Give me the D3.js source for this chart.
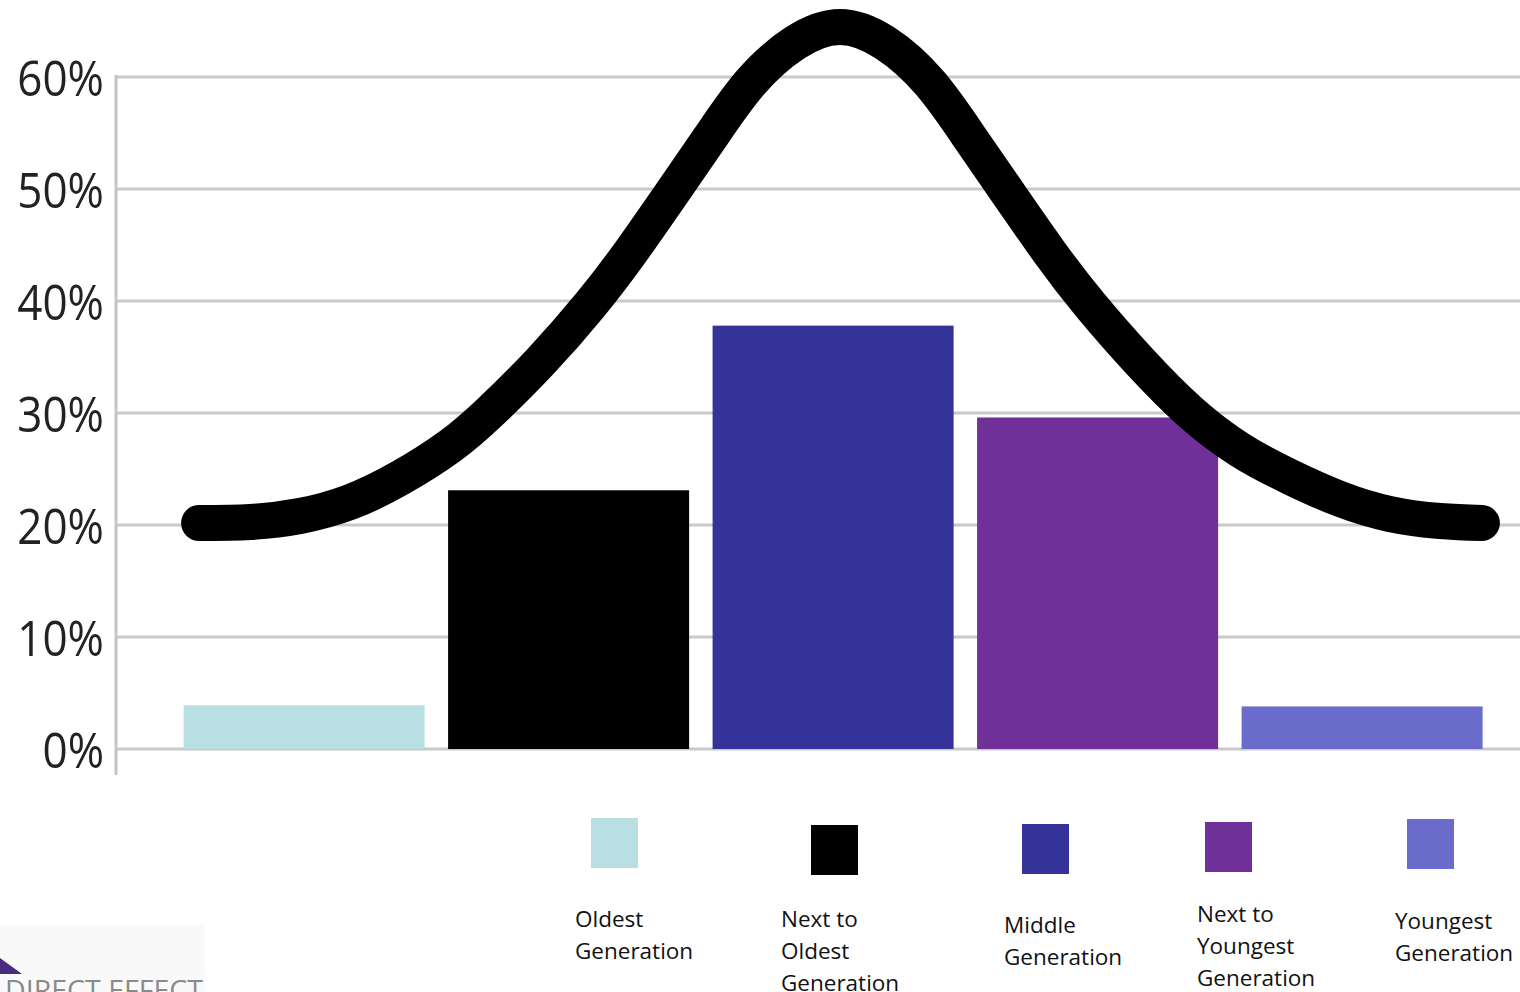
<!DOCTYPE html>
<html>
<head>
<meta charset="utf-8">
<script src="https://cdn.jsdelivr.net/npm/d3@7"></script>
<style>
  html, body { margin: 0; padding: 0; background: #ffffff; overflow: hidden; }
  svg { display: block; }
</style>
</head>
<body>
<svg id="chart" width="1520" height="992"></svg>
<script>
// Generations and their share of the total (%)
const generations = [
  "Oldest Generation",
  "Next to Oldest Generation",
  "Middle Generation",
  "Next to Youngest Generation",
  "Youngest Generation"
];
const legendLabels = [
  ["Oldest", "Generation"],
  ["Next to", "Oldest", "Generation"],
  ["Middle", "Generation"],
  ["Next to", "Youngest", "Generation"],
  ["Youngest", "Generation"]
];
const shares = [3.9, 23.1, 37.8, 29.6, 3.8];
const barColors = ["#b9dfe2", "#000000", "#35339a", "#70309a", "#6b6bcc"];

// Percent axis ticks
const yTicks = [0, 10, 20, 30, 40, 50, 60];

// Bell curve traced over the bars: position along the generation axis
// (0 = first generation, 4 = last) and height in percent
const curvePos = [-0.397, -0.204, -0.016, 0.174, 0.363, 0.552, 0.703, 0.892, 1.081, 1.232,
                  1.383, 1.534, 1.686, 1.856, 2.026,
                  2.196, 2.366, 2.518, 2.669, 2.820, 2.972, 3.161, 3.350, 3.539, 3.728,
                  3.917, 4.106, 4.295, 4.453];
const curvePct = [20.18, 20.27, 20.80, 22.05, 24.20, 27.05, 30.09, 34.55, 39.64, 44.29,
                  49.38, 54.55, 59.46, 63.04, 64.46,
                  63.04, 59.46, 54.55, 49.38, 44.29, 39.64, 34.55, 30.09, 26.70, 24.29,
                  22.32, 20.98, 20.36, 20.18];

// Legend layout (label x, swatch x, swatch top, first baseline)
const legendSlots = [
  { tx: 575,  sx: 591,  sy: 818, by: 927 },
  { tx: 781,  sx: 811,  sy: 825, by: 927 },
  { tx: 1004, sx: 1022, sy: 824, by: 933 },
  { tx: 1197, sx: 1205, sy: 822, by: 922 },
  { tx: 1395, sx: 1407, sy: 819, by: 929 }
];

const svg = d3.select("#chart");

const plotLeft = 116, plotRight = 1520;
const y = d3.scaleLinear().domain([0, 60]).range([749, 77]);
const x = d3.scaleBand().domain(generations).range([183.6, 1482.6]).paddingInner(0.0888).paddingOuter(0);
const xPos = d3.scaleLinear()
  .domain([0, 4])
  .range([x(generations[0]) + x.bandwidth() / 2, x(generations[4]) + x.bandwidth() / 2]);

const defs = svg.append("defs");
defs.append("filter").attr("id", "soft")
  .append("feGaussianBlur").attr("stdDeviation", 0.7);

// Horizontal gridlines
const grid = svg.append("g").attr("filter", "url(#soft)");
grid.selectAll("line.grid")
  .data(yTicks)
  .join("line")
  .attr("class", "grid")
  .attr("x1", plotLeft).attr("x2", plotRight)
  .attr("y1", d => y(d)).attr("y2", d => y(d))
  .attr("stroke", "#c9c9c9")
  .attr("stroke-width", 3);

// Vertical axis line
grid.append("line")
  .attr("x1", plotLeft).attr("x2", plotLeft)
  .attr("y1", y(60) - 2).attr("y2", y(0) + 26)
  .attr("stroke", "#c4c4c4")
  .attr("stroke-width", 3);

// Tick labels
const yAxis = d3.axisLeft(y).tickValues(yTicks).tickFormat(d => d + "%").tickSize(0).tickPadding(0);
const axisG = svg.append("g")
  .attr("transform", `translate(104,0)`)
  .attr("filter", "url(#soft)")
  .call(yAxis);
axisG.select(".domain").remove();
axisG.selectAll(".tick text")
  .attr("x", 0)
  .attr("dy", "0.36em")
  .attr("font-family", "'Open Sans', sans-serif")
  .attr("font-size", 44)
  .attr("fill", "#222222")
  .attr("transform", "scale(1,1.14)");

// Bars
svg.append("g")
  .selectAll("rect")
  .data(generations)
  .join("rect")
  .attr("x", d => x(d))
  .attr("width", x.bandwidth())
  .attr("y", (d, i) => y(shares[i]))
  .attr("height", (d, i) => y(0) - y(shares[i]))
  .attr("fill", (d, i) => barColors[i]);

// Bell curve
const curvePts = curvePos.map((p, i) => [xPos(p), y(curvePct[i])]);
svg.append("path")
  .attr("d", d3.line().curve(d3.curveNatural)(curvePts))
  .attr("fill", "none")
  .attr("stroke", "#000000")
  .attr("stroke-width", 36)
  .attr("stroke-linecap", "round")
  .attr("stroke-linejoin", "round");

// Legend
const legend = svg.append("g")
  .selectAll("g")
  .data(generations)
  .join("g");
legend.append("rect")
  .attr("x", (d, i) => legendSlots[i].sx)
  .attr("y", (d, i) => legendSlots[i].sy)
  .attr("width", 47)
  .attr("height", 50)
  .attr("fill", (d, i) => barColors[i]);
legend.append("text")
  .attr("font-family", "'Open Sans', sans-serif")
  .attr("font-size", 22.5)
  .attr("fill", "#111111")
  .each(function(d, i) {
    const t = d3.select(this);
    legendLabels[i].forEach((line, k) => {
      t.append("tspan")
        .attr("x", legendSlots[i].tx)
        .attr("y", legendSlots[i].by + k * 32)
        .text(line);
    });
  });

// Logo in the lower-left corner
const logo = svg.append("g");
logo.append("rect")
  .attr("x", 0).attr("y", 925).attr("width", 205).attr("height", 67)
  .attr("fill", "#f9f9f9");
logo.append("path")
  .attr("d", "M0,958 L22,974 L0,974 Z")
  .attr("fill", "#4a2a7e");
logo.append("text")
  .attr("x", 5).attr("y", 1000)
  .attr("font-family", "'Open Sans', sans-serif")
  .attr("font-size", 27)
  .attr("textLength", 198)
  .attr("lengthAdjust", "spacingAndGlyphs")
  .attr("fill", "#8a8a8a")
  .text("DIRECT EFFECT");
</script>
</body>
</html>
